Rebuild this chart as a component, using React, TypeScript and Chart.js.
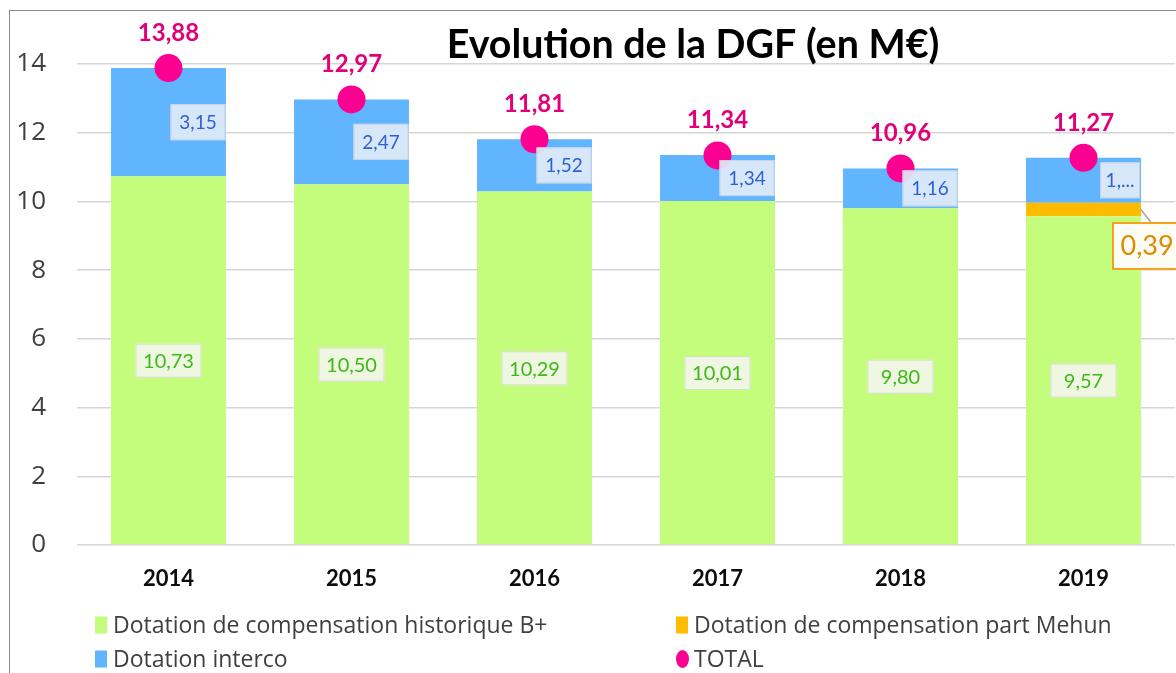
import React, { useEffect, useRef } from "react";
import { Chart, registerables } from "chart.js";
Chart.register(...registerables);

const years = ["2014", "2015", "2016", "2017", "2018", "2019"];
const historique = [10.73, 10.5, 10.29, 10.01, 9.8, 9.57];
const mehun = [null, null, null, null, null, 0.39];
const interco = [3.15, 2.47, 1.52, 1.34, 1.16, 1.31];
const total = [13.88, 12.97, 11.81, 11.34, 10.96, 11.27];
const seriesLabels = [
  "Dotation de compensation historique B+",
  "Dotation de compensation part Mehun",
  "Dotation interco",
  "TOTAL",
];
const titleText = "Evolution de la DGF (en M€)";

const GREEN = "#c4fd7b";
const ORANGE = "#ffbb00";
const BLUE = "#61b5fe";
const PINK = "#fb0091";
const FONT = "Lato, 'Open Sans', sans-serif";
const FONT2 = "'Open Sans', 'Noto Sans', sans-serif";

const fmt = (v: number) => v.toFixed(2).replace(".", ",");

function box(ctx: CanvasRenderingContext2D, x: number, y: number, w: number, h: number, fill: string, stroke: string, lw: number) {
  ctx.save();
  ctx.fillStyle = fill;
  ctx.fillRect(x, y, w, h);
  ctx.strokeStyle = stroke;
  ctx.lineWidth = lw;
  ctx.strokeRect(x + 0.5, y + 0.5, w - 1, h - 1);
  ctx.restore();
}

const labelPlugin = {
  id: "labelPlugin",
  afterDraw(chart: any) {
    const ctx: CanvasRenderingContext2D = chart.ctx;
    const yS = chart.scales.y;
    const area = chart.chartArea;
    const metaG = chart.getDatasetMeta(0);
    const metaO = chart.getDatasetMeta(1);
    const metaB = chart.getDatasetMeta(2);
    ctx.save();
    ctx.textAlign = "center";
    ctx.textBaseline = "middle";
    // green labels
    ctx.font = `20px ${FONT}`;
    historique.forEach((v, i) => {
      const el = metaG.data[i];
      const cy = yS.getPixelForValue(v / 2);
      const w = 66, h = 34;
      box(ctx, el.x - w / 2, cy - h / 2, w, h, "#eff7e3", "#d5dfc6", 1);
      ctx.fillStyle = "#3dba14";
      ctx.fillText(fmt(v), el.x, cy + 1);
    });
    // blue labels
    ctx.font = `19px ${FONT}`;
    interco.forEach((v, i) => {
      const el = metaB.data[i];
      const base = historique[i] + (mehun[i] || 0);
      const cy = yS.getPixelForValue(base + v / 2);
      let w = 55;
      const h = 36;
      let left = el.x + 2;
      let text = fmt(v);
      const limit = chart.width - 36;
      if (left + w > limit) {
        w = 40;
        left = limit - w;
        text = "1,...";
      }
      box(ctx, left, cy - h / 2, w, h, "rgba(226,236,248,0.9)", "#c6d3e2", 1);
      ctx.fillStyle = "#2e5fd3";
      ctx.fillText(text, left + w / 2, cy + 1);
    });
    // orange label
    mehun.forEach((v, i) => {
      if (v == null) return;
      const el = metaO.data[i];
      const cy = yS.getPixelForValue(historique[i] + v / 2);
      const right = el.x + el.width / 2;
      const bx = el.x + 29;
      const by = cy + 13;
      ctx.strokeStyle = "#a6a6a6";
      ctx.lineWidth = 1.5;
      ctx.beginPath();
      ctx.moveTo(right, cy);
      ctx.lineTo(right + 10, by);
      ctx.stroke();
      box(ctx, bx, by, 80, 47, "#fdfdf6", "#f5a31c", 2);
      ctx.font = `27px ${FONT}`;
      ctx.textAlign = "left";
      ctx.fillStyle = "#dc8a00";
      ctx.fillText(fmt(v), bx + 8, by + 24);
      ctx.textAlign = "center";
    });
    // total labels
    ctx.font = `bold 24px ${FONT}`;
    ctx.fillStyle = "#e2007a";
    total.forEach((v, i) => {
      const el = metaG.data[i];
      const cy = yS.getPixelForValue(v);
      ctx.fillText(fmt(v), el.x, cy - 35);
    });
    // title
    ctx.font = `bold 36px ${FONT}`;
    const tw = ctx.measureText(titleText).width;
    const size = (36 * 493) / tw;
    ctx.font = `bold ${size.toFixed(1)}px ${FONT}`;
    ctx.fillStyle = "#000";
    ctx.fillText(titleText, area.left + 616, 34);
    // legend
    const colors = [GREEN, ORANGE, BLUE, PINK];
    const pos = [
      [area.left + 18, area.bottom + 80],
      [area.left + 599, area.bottom + 80],
      [area.left + 18, area.bottom + 114],
      [area.left + 599, area.bottom + 114],
    ];
    ctx.font = `23px ${FONT2}`;
    ctx.textAlign = "left";
    seriesLabels.forEach((lab, i) => {
      const [x, y] = pos[i];
      ctx.fillStyle = colors[i];
      if (i === 3) {
        ctx.beginPath();
        ctx.ellipse(x + 6.5, y, 6.5, 9, 0, 0, Math.PI * 2);
        ctx.fill();
      } else {
        ctx.fillRect(x, y - 8.5, 12, 17);
      }
      ctx.fillStyle = "#404040";
      ctx.fillText(lab, x + 18, y + 1);
    });
    ctx.restore();
  },
};

export default function App() {
  const ref = useRef<HTMLCanvasElement>(null);
  useEffect(() => {
    if (!ref.current) return;
    const chart = new Chart(ref.current, {
      type: "bar",
      data: {
        labels: years,
        datasets: [
          { type: "bar", label: seriesLabels[0], data: historique, backgroundColor: GREEN, stack: "s", order: 1, barPercentage: 0.628, categoryPercentage: 1 },
          { type: "bar", label: seriesLabels[1], data: mehun as any, backgroundColor: ORANGE, stack: "s", order: 1, barPercentage: 0.628, categoryPercentage: 1 },
          { type: "bar", label: seriesLabels[2], data: interco, backgroundColor: BLUE, stack: "s", order: 1, barPercentage: 0.628, categoryPercentage: 1 },
          { type: "line", label: seriesLabels[3], data: total, stack: "t", order: 0, clip: false, showLine: false, pointRadius: 14, pointHoverRadius: 14, pointBackgroundColor: PINK, pointBorderColor: PINK, pointBorderWidth: 0, borderColor: PINK, backgroundColor: PINK } as any,
        ],
      },
      options: {
        animation: false,
        responsive: false,
        maintainAspectRatio: false,
        events: [],
        layout: { autoPadding: false, padding: { top: 53, right: 1, left: 0, bottom: 0 } },
        plugins: { legend: { display: false }, title: { display: false }, tooltip: { enabled: false } },
        scales: {
          x: {
            stacked: true,
            grid: { display: false },
            border: { display: false },
            ticks: { color: "#0d0d0d", font: { family: FONT, size: 22, weight: "bold" }, padding: 13 },
            afterFit: (s: any) => { s.height = 128; s.paddingLeft = 0; s.paddingRight = 0; },
          },
          y: {
            stacked: true,
            min: 0,
            max: 14,
            ticks: { stepSize: 2, color: "#404040", font: { family: FONT2, size: 26 }, padding: 31 },
            grid: { color: "#d6d6d6", lineWidth: 1.5, drawTicks: false },
            border: { display: false },
            afterFit: (s: any) => { s.width = 67; },
          },
        },
      },
      plugins: [labelPlugin],
    });
    return () => chart.destroy();
  }, []);
  return (
    <div style={{ position: "fixed", left: 0, top: 0, width: 1176, height: 673, overflow: "hidden", background: "#fff" }}>
      <div style={{ position: "absolute", left: 9, top: 10, width: 1300, height: 700, borderLeft: "1px solid #8a8a8a", borderTop: "1px solid #8a8a8a" }}>
        <canvas ref={ref} width={1166} height={662} style={{ display: "block" }} />
      </div>
    </div>
  );
}
